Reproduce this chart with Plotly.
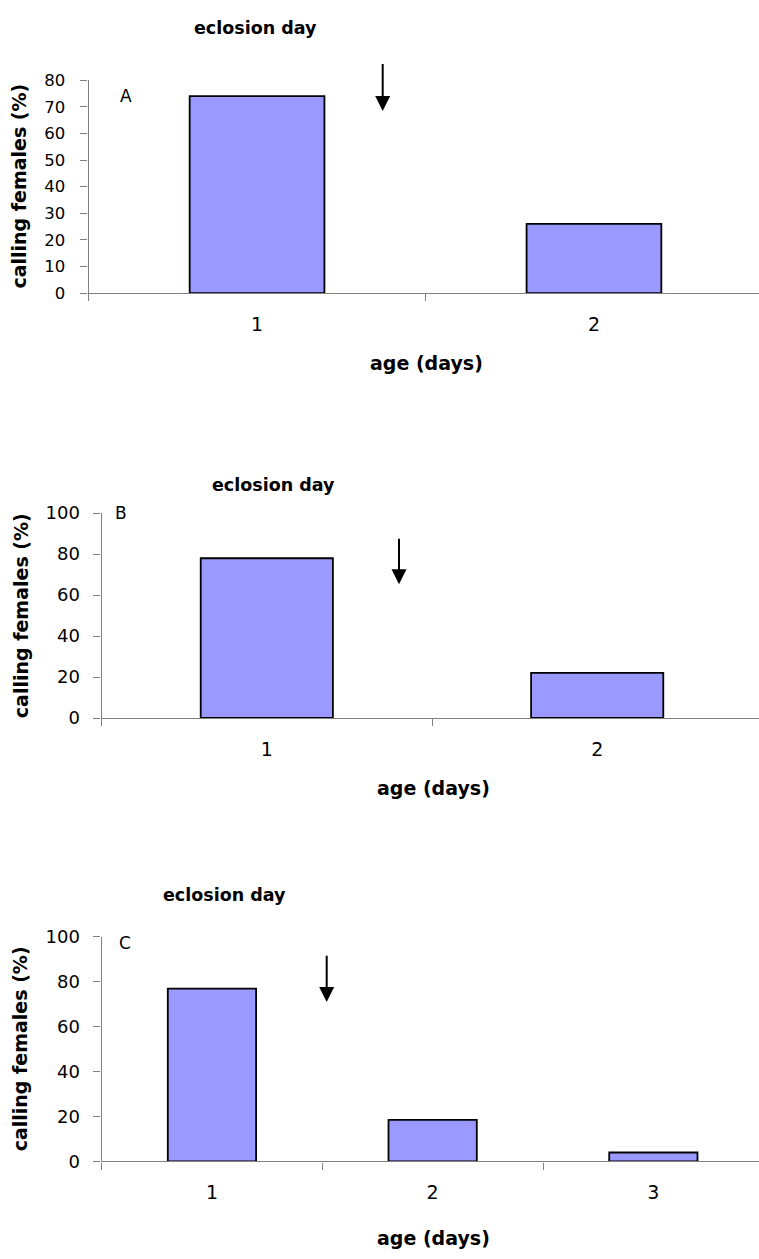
import plotly.graph_objects as go

W, H = 759, 1259

# ---------------- data ----------------
panel_a_days = ["1", "2"]
panel_a_values = [74, 26]
panel_b_days = ["1", "2"]
panel_b_values = [78, 22]
panel_c_days = ["1", "2", "3"]
panel_c_values = [77, 18.5, 4]

panel_letters = ["A", "B", "C"]
title_text = "eclosion day"
x_title = "age (days)"
y_title = "calling females (%)"

FONT = "DejaVu Sans"
BAR_COLOR = "#9999FF"
AXIS_COLOR = "#808080"


def px_x(p):
    return p / W


def px_y(p):
    return 1 - p / H


# panel geometry in pixels
panels = [
    dict(days=panel_a_days, vals=panel_a_values, left=88.6, top=70.3, bottom=287.0, cw=336.9,
         ymax=80, dtick=10, yfont=16.5, ystand=12,
         title=(255.5, 17.5), letter=(126, 86), xt=(426, 358), yt=(19, 178.6),
         arrow=(382.7, 101.7, 53.3)),
    dict(days=panel_b_days, vals=panel_b_values, left=101.6, top=510.7, bottom=719.0, cw=330.4,
         ymax=100, dtick=20, yfont=18, ystand=10,
         title=(273.3, 482), letter=(121, 511), xt=(434, 790), yt=(20.5, 614.9),
         arrow=(399.0, 583.0, 536.0)),
    dict(days=panel_c_days, vals=panel_c_values, left=101.6, top=941.7, bottom=1170.0, cw=220.7,
         ymax=100, dtick=20, yfont=18, ystand=10,
         title=(224, 899.5), letter=(125, 948), xt=(434, 1248), yt=(20, 1055.9),
         arrow=(326.7, 1007.7, 960.0)),
]

fig = go.Figure()
annotations = []

for i, p in enumerate(panels):
    n = i + 1
    xa = "x" if n == 1 else f"x{n}"
    ya = "y" if n == 1 else f"y{n}"
    fig.add_trace(go.Bar(
        x=p["days"], y=p["vals"], xaxis=xa, yaxis=ya,
        marker=dict(color=BAR_COLOR, line=dict(color="black", width=1.8)),
        width=0.4, showlegend=False, hoverinfo="x+y",
    ))
    xright = -0.5 + (W - p["left"]) / p["cw"]
    xkey = "xaxis" if n == 1 else f"xaxis{n}"
    ykey = "yaxis" if n == 1 else f"yaxis{n}"
    fig.update_layout(**{
        xkey: dict(
            domain=[px_x(p["left"]), 1], anchor=ya, type="category",
            range=[-0.5, xright], tickson="boundaries",
            showline=True, linecolor=AXIS_COLOR, linewidth=1.3,
            ticks="outside", ticklen=7, tickcolor=AXIS_COLOR, tickwidth=1.3,
            showgrid=False, zeroline=False,
            tickfont=dict(family=FONT, size=19, color="black"),
            ticklabelstandoff=14,
        ),
        ykey: dict(
            domain=[px_y(p["bottom"]), px_y(p["top"])], anchor=xa,
            range=[0, p["ymax"]], dtick=p["dtick"], tick0=0,
            showline=True, linecolor=AXIS_COLOR, linewidth=1.3,
            ticks="outside", ticklen=7, tickcolor=AXIS_COLOR, tickwidth=1.3,
            showgrid=False, zeroline=False,
            tickfont=dict(family=FONT, size=p["yfont"], color="black"),
            ticklabelstandoff=p["ystand"],
        ),
    })
    # title "eclosion day"
    annotations.append(dict(
        text=f"<b>{title_text}</b>", xref="paper", yref="paper",
        x=px_x(p["title"][0]), y=px_y(p["title"][1]), xanchor="center", yanchor="middle",
        showarrow=False, font=dict(family=FONT, size=17.5, color="black"),
    ))
    # panel letter
    annotations.append(dict(
        text=panel_letters[i], xref="paper", yref="paper",
        x=px_x(p["letter"][0]), y=px_y(p["letter"][1]), xanchor="center", yanchor="middle",
        showarrow=False, font=dict(family=FONT, size=17, color="black"),
    ))
    # x title
    annotations.append(dict(
        text=f"<b>{x_title}</b>", xref="paper", yref="paper",
        x=px_x(p["xt"][0]), y=px_y(p["xt"][1]), xanchor="center", yanchor="middle",
        showarrow=False, font=dict(family=FONT, size=19, color="black"),
    ))
    # y title
    annotations.append(dict(
        text=f"<b>{y_title}</b>", xref="paper", yref="paper", textangle=-90,
        x=px_x(p["yt"][0]), y=px_y(p["yt"][1]), xanchor="center", yanchor="middle",
        showarrow=False, font=dict(family=FONT, size=19, color="black"),
    ))
    # arrow
    ax_px, tip_px, top_px = p["arrow"]
    annotations.append(dict(
        text="", xref="paper", yref="paper",
        x=px_x(ax_px), y=px_y(tip_px), ax=0, ay=-(tip_px - top_px),
        showarrow=True, arrowhead=2, arrowsize=1.5, arrowwidth=2, arrowcolor="black",
        standoff=0,
    ))

fig.update_layout(
    width=W, height=H,
    margin=dict(l=0, r=0, t=0, b=0),
    paper_bgcolor="white", plot_bgcolor="white",
    bargap=0.6,
    annotations=annotations,
    font=dict(family=FONT, color="black"),
)

fig.write_html("out.html")
